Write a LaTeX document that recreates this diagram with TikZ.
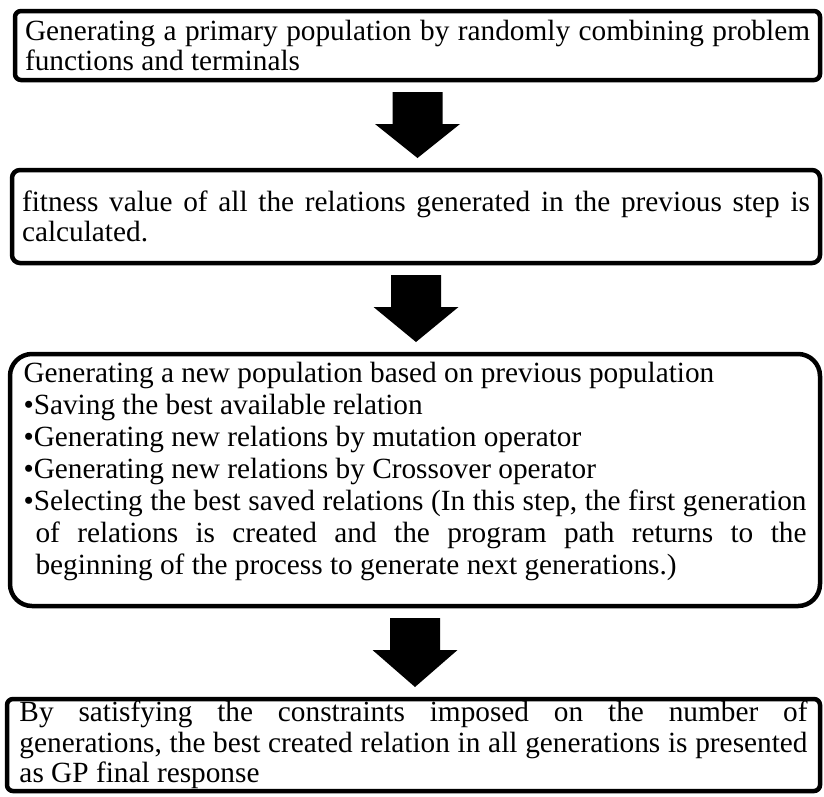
\documentclass[tikz,border=0pt]{standalone}
\usepackage{fontspec}
\setmainfont{Liberation Serif}
\usetikzlibrary{positioning}
\usetikzlibrary{calc}
\setlength{\parindent}{0pt}

\begin{document}
\begin{tikzpicture}[x=1pt,y=-1pt,
    stage/.style={draw,line width=4.5pt,outer sep=0pt,align=justify,inner xsep=10pt,inner ysep=0pt,
        font={\fontsize{29.3}{30.5}\selectfont}},
    blockarrow/.style={fill=black,to path={
        ($(\tikztostart.south)+(-25pt,-12pt)$) -- ++(50pt,0pt) -- ++(0pt,-32pt) -- ++(17.5pt,0pt)
        -- ($(\tikztostart.south |- \tikztotarget.north)+(0pt,12pt)$)
        -- ($(\tikztostart.south)+(-42.5pt,-44pt)$) -- ++(17.5pt,0pt) -- cycle}}]
    \useasboundingbox (0,0) rectangle (824,796);

        \node[stage,rounded corners=6pt,text width=785pt,minimum height=69pt,anchor=north east] (gen) at (820,11)
            {Generating a primary population by randomly combining problem\linebreak functions and terminals};

        \node[stage,rounded corners=8pt,text width=788pt,minimum height=93pt,below=90pt of gen.south east,anchor=north east] (fit)
            {fitness value of all the relations generated in the previous step is\linebreak calculated.};

        \node[stage,rounded corners=22pt,text width=783pt,inner xsep=13.5pt,minimum height=252pt,
              font={\fontsize{29.3}{32}\selectfont},below=91pt of fit.south east,anchor=north east] (newpop)
            {Generating a new population based on previous population\par
             •Saving the best available relation\par
             •Generating new relations by mutation operator\par
             •Generating new relations by Crossover operator\par
             •\hangindent=12pt\hangafter=1 Selecting the best saved relations (In this step, the first generation\linebreak
             of relations is created and the program path returns to the\linebreak
             beginning of the process to generate next generations.)\par
             \nointerlineskip\hrule height 17pt depth 0pt width 0pt};

        \node[stage,rounded corners=6pt,text width=788pt,inner xsep=12.5pt,minimum height=92pt,below=93pt of newpop.south east,anchor=north east] (final)
            {By satisfying the constraints imposed on the number of\linebreak
             generations, the best created relation in all generations is presented\linebreak
             as GP final response};

        \path[blockarrow] (gen) to (fit);
        \path[blockarrow] (fit) to (newpop);
        \path[blockarrow] (newpop) to (final);

\end{tikzpicture}
\end{document}
